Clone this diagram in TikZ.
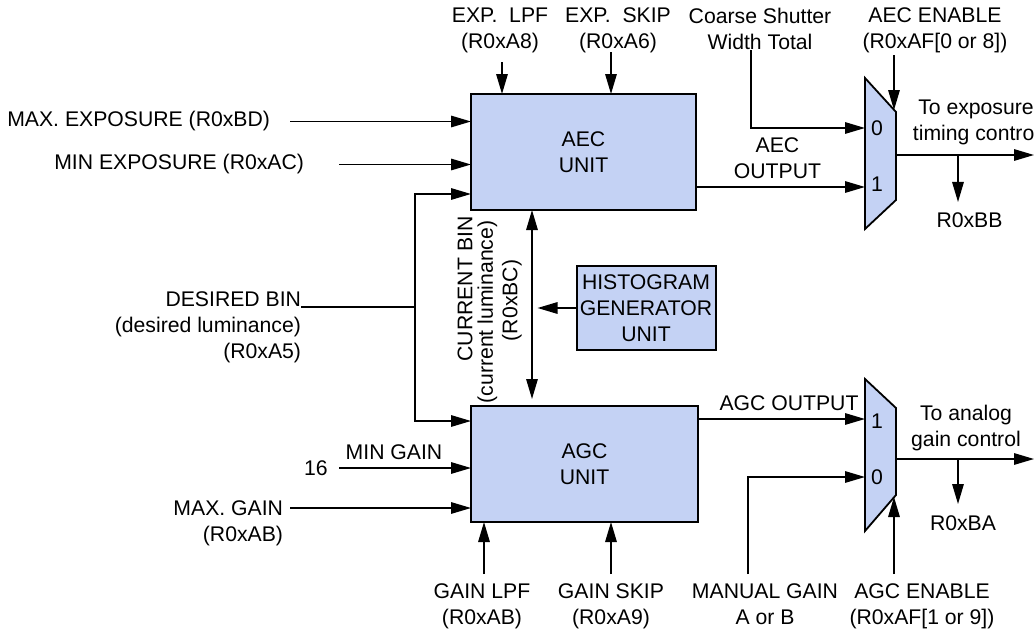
\documentclass[tikz,border=0pt]{standalone}
\usepackage{fontspec}
\setmainfont{Liberation Sans}
\usetikzlibrary{arrows.meta}
\definecolor{unitfill}{RGB}{196,210,244}
\begin{document}
\begin{tikzpicture}[x=1pt,y=-1pt,
  every node/.style={inner sep=0pt,outer sep=0pt,font=\fontsize{21.2}{26}\selectfont},
  unit/.style={draw,line width=2pt,fill=unitfill,align=center},
  lbl/.style={align=center},
  vlbl/.style={rotate=90},
  wire/.style={line width=1.5pt},
  arr/.style={wire,-{Triangle[length=20pt,width=11.5pt]}},
  darr/.style={wire,{Triangle[length=20pt,width=11.5pt]}-{Triangle[length=20pt,width=11.5pt]}},
  muxshape/.style={draw,line width=1.8pt,fill=unitfill,line join=miter}]
\useasboundingbox (0,0) rectangle (1034,632);

% units
\node[unit,minimum width=225pt,minimum height=116pt] (aec) at (583.5,152) {AEC\\UNIT};
\node[unit,minimum width=227pt,minimum height=116pt] (agc) at (584.5,464) {AGC\\UNIT};
\node[unit,minimum width=139pt,minimum height=84pt,inner sep=1pt] (hist) at (646,308) {HISTOGRAM\\GENERATOR\\UNIT};

% multiplexers
\draw[muxshape] (865,78) -- (896,112) -- (896,200) -- (865,229) -- cycle;
\draw[muxshape] (865,379) -- (896,408) -- (896,495) -- (865,531) -- cycle;
\node (m1zero) at (877,128) {0};
\node (m1one) at (877,184) {1};
\node (m2one) at (877,421.5) {1};
\node (m2zero) at (877,477) {0};
\coordinate (m1in0) at (865,128);
\coordinate (m1in1) at (865,187);
\coordinate (m1sel) at (894,110);
\coordinate (m1out) at (896,155);
\coordinate (m2in1) at (865,419);
\coordinate (m2in0) at (865,477);
\coordinate (m2sel) at (894,497);
\coordinate (m2out) at (896,459);

% top labels
\node[lbl,anchor=north] (explpf) at (500,8) {EXP.\ \ LPF\\(R0xA8)};
\node[lbl,anchor=north] (expskip) at (618,8) {EXP.\ \ SKIP\\(R0xA6)};
\node[lbl,anchor=north] (coarse) at (760,8) {Coarse Shutter\\Width Total};
\node[lbl,anchor=north] (aecen) at (935,8) {AEC ENABLE\\(R0xAF[0 or 8])};
\coordinate (lpfin) at (502,62);
\coordinate (skipin) at (611,52);
\coordinate (coarsein) at (751,50);
\coordinate (aecenin) at (894,55);
\draw[arr] (lpfin) -- (lpfin |- aec.north);
\draw[arr] (skipin) -- (skipin |- aec.north);
\draw[arr] (coarsein) |- (m1in0);
\draw[arr] (aecenin) -- (m1sel);

% left inputs of AEC
\node[anchor=east] (maxexp) at (270,121.5) {MAX. EXPOSURE (R0xBD)};
\node[anchor=east] (minexp) at (304,164.5) {MIN EXPOSURE (R0xAC)};
\draw[arr] ([xshift=20pt]maxexp.east) -- (maxexp.east -| aec.west);
\draw[arr] ([xshift=35pt]minexp.east) -- (minexp.east -| aec.west);

% desired bin
\node[lbl,align=right,anchor=north east] (desired) at (301,291.5) {DESIRED BIN\\(desired luminance)\\(R0xA5)};
\coordinate (dj) at (415,307);
\draw[wire] (desired.north east |- dj) -- (dj);
\draw[arr] (dj) |- (aec.west |- 0,194);
\draw[arr] (dj) |- (agc.west |- 0,421);

% current bin
\coordinate (cbtop) at (532,210);
\draw[darr,shorten >=7pt] (cbtop) -- (cbtop |- agc.north);
\node[vlbl] (curbin1) at (465,289) {CURRENT BIN};
\node[vlbl] (curbin2) at (487.5,312) {(current luminance)};
\node[vlbl] (curbin3) at (512,300.5) {(R0xBC)};
\draw[arr] (hist.west) -- ++(-39,0);

% AEC output
\draw[arr] (m1in1 -| aec.east) -- (m1in1);
\node[lbl] (aecout) at (777.5,158) {AEC\\OUTPUT};
\coordinate (o1) at (1034,155);
\coordinate (b1) at (958,155);
\draw[arr] (m1out) -- (o1);
\node (rbb) at (969.5,220.5) {R0xBB};
\draw[arr] (b1) -- ([yshift=11pt]rbb.north -| b1);
\node[lbl,anchor=north] (toexp) at (976,100) {To exposure\\timing control};

% AGC inputs
\node (sixteen) at (316,468) {16};
\node (mingain) at (394,452) {MIN GAIN};
\draw[arr] ([xshift=11.5pt]sixteen.east) -- (sixteen.east -| agc.west);
\node[lbl,align=right,anchor=north east] (maxgain) at (283,500.5) {MAX. GAIN\\(R0xAB)};
\coordinate (mg) at (290,508);
\draw[arr] (mg) -- (mg -| agc.west);

% bottom labels
\node[lbl,anchor=north] (gainlpf) at (482,583.5) {GAIN LPF\\(R0xAB)};
\node[lbl,anchor=north] (gainskip) at (611,583.5) {GAIN SKIP\\(R0xA9)};
\node[lbl,anchor=north] (manual) at (765,583.5) {MANUAL GAIN\\A or B};
\node[lbl,anchor=north] (agcen) at (922,583.5) {AGC ENABLE\\(R0xAF[1 or 9])};
\coordinate (glpfin) at (484,574);
\coordinate (gskipin) at (611,574);
\coordinate (manin) at (748,574);
\coordinate (agcenin) at (894,574);
\draw[arr] (glpfin) -- (glpfin |- agc.south);
\draw[arr] (gskipin) -- (gskipin |- agc.south);
\draw[arr] (manin) |- (m2in0);
\draw[arr] (agcenin) -- (m2sel);

% AGC output
\draw[arr] (m2in1 -| agc.east) -- (m2in1);
\node (agcout) at (789,403) {AGC OUTPUT};
\coordinate (o2) at (1034,459);
\coordinate (b2) at (958,459);
\draw[arr] (m2out) -- (o2);
\node (rba) at (963,523.5) {R0xBA};
\draw[arr] (b2) -- ([yshift=12pt]rba.north -| b2);
\node[lbl,anchor=north] (toanalog) at (966,405.5) {To analog\\gain control};
\end{tikzpicture}
\end{document}
